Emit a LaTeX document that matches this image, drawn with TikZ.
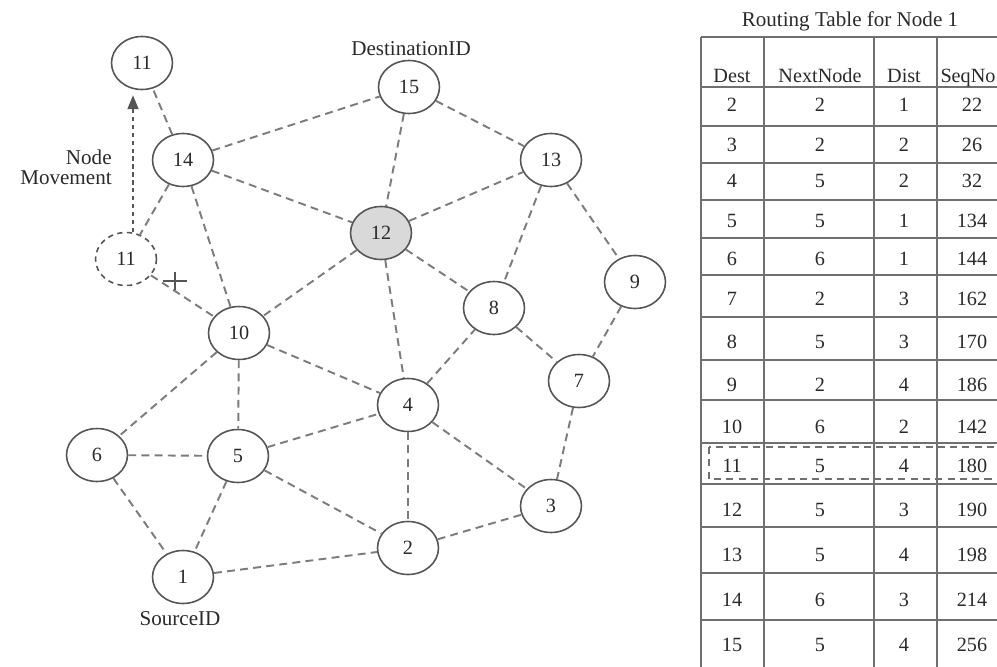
\documentclass[tikz,border=0pt]{standalone}
\usepackage{fontspec}
\setmainfont{Liberation Serif}
\usetikzlibrary{shapes.geometric,arrows.meta}
\definecolor{edgegray}{HTML}{7C7C7C}
\definecolor{ringgray}{HTML}{555555}
\definecolor{hostfill}{HTML}{D9D9D9}
\definecolor{rulegray}{HTML}{707070}
\definecolor{inkgray}{HTML}{2A2A2A}

\begin{document}
\begin{tikzpicture}[x=0.02cm,y=-0.02cm,
  mnode/.style={ellipse,draw=ringgray,line width=0.9pt,fill=white,
    minimum width=1.22cm,minimum height=1.06cm,inner sep=0pt,
    text=inkgray,font=\fontsize{11.5}{13}\selectfont},
  ghost/.style={mnode,dash pattern=on 3pt off 2.5pt},
  link/.style={draw=edgegray,line width=1.1pt,dash pattern=on 4.5pt off 3pt},
  movearrow/.style={draw=inkgray!80,line width=1.5pt,dash pattern=on 2.5pt off 2pt,
    -{Triangle[length=8pt,width=6pt]}},
  lbl/.style={font=\fontsize{12}{11.5}\selectfont,text=inkgray,inner sep=0pt},
  cell/.style={font=\fontsize{11.5}{13}\selectfont,text=inkgray,inner sep=0pt},
  gridline/.style={draw=rulegray,line width=1.1pt}
]
\useasboundingbox (0,0) rectangle (997,666);
\clip (0,0) rectangle (997,666);

% ---------------- mobile nodes ----------------
\node[mnode] (top11) at (142,63)  {11};
\node[mnode] (n14)   at (183,160) {14};
\node[ghost] (old11) at (126,259) {11};
\node[mnode] (n15)   at (409,87)  {15};
\node[mnode] (n13)   at (551,160) {13};
\node[mnode,fill=hostfill] (n12) at (381,233) {12};
\node[mnode] (n8)    at (494,308) {8};
\node[mnode] (n9)    at (635,282) {9};
\node[mnode] (n10)   at (239,333) {10};
\node[mnode] (n6)    at (97,455)  {6};
\node[mnode] (n5)    at (238,456) {5};
\node[mnode] (n1)    at (183,577) {1};
\node[mnode] (n4)    at (408,405) {4};
\node[mnode] (n7)    at (579,381) {7};
\node[mnode] (n3)    at (551,506) {3};
\node[mnode] (n2)    at (408,548) {2};

% ---------------- labels ----------------
\node[lbl] (dstlbl) at (411,49) {DestinationID};
\node[lbl] (srclbl) at (180,619) {SourceID};
\node[lbl,align=right,anchor=east] (movelbl) at (112,167) {Node\\Movement};

% ---------------- wireless links ----------------
\foreach \a/\b in {n14/top11,n14/old11,n14/n10,n14/n15,n14/n12,
                   n15/n12,n15/n13,n12/n13,n12/n10,n12/n8,n12/n4,
                   n13/n8,n13/n9,n10/n6,n10/n5,n10/n4,n6/n5,n6/n1,
                   n5/n1,n5/n4,n5/n2,n1/n2,n4/n8,n4/n2,n4/n3,
                   n8/n7,n9/n7,n7/n3,n2/n3}
  \draw[link] (\a) -- (\b);

% broken link after the move
\draw[link] (old11) -- (n10);
\coordinate (cut) at (175,281);
\draw[inkgray!80,line width=0.8pt] (cut) ++(-12,0) -- ++(24,0);
\draw[inkgray!80,line width=0.8pt] (cut) ++(0,-9) -- ++(0,18);

% movement of node 11
\coordinate (mvfrom) at (133,232);
\coordinate (mvto)   at (133,95);
\draw[movearrow] (mvfrom) -- (mvto);

% ---------------- routing table ----------------
\node[lbl] (ttitle) at (850,21) {Routing Table for Node 1};

% horizontal rules
\foreach \y in {37,87,126,163,200,238,275,317,360,400,443,484,527,573,620}
  \draw[gridline] (701,\y) -- (1012,\y);
% vertical rules
\draw[gridline,line width=1.4pt] (701,37) -- (701,680);
\foreach \x in {764,874,937,1008}
  \draw[gridline] (\x,37) -- (\x,680);

% highlighted entry for node 11
\draw[rulegray,line width=0.7pt,dash pattern=on 4pt off 3pt] (709,447) rectangle (1004,479);

% header
\foreach \x/\t in {732/Dest,820/NextNode,904/Dist,968/SeqNo}
  \node[cell,anchor=base] at (\x,82) {\t};

% entries
\foreach \y/\d/\n/\s/\q in {105/2/2/1/22,145/3/2/2/26,181/4/5/2/32,221/5/5/1/134,
    259/6/6/1/144,299/7/2/3/162,342/8/5/3/170,385/9/2/4/186,427/10/6/2/142,
    466/11/5/4/180,510/12/5/3/190,555/13/5/4/198,600/14/6/3/214,645/15/5/4/256}{
  \node[cell] at (732,\y) {\d};
  \node[cell] at (820,\y) {\n};
  \node[cell] at (904,\y) {\s};
  \node[cell] at (972,\y) {\q};
}
\end{tikzpicture}
\end{document}
